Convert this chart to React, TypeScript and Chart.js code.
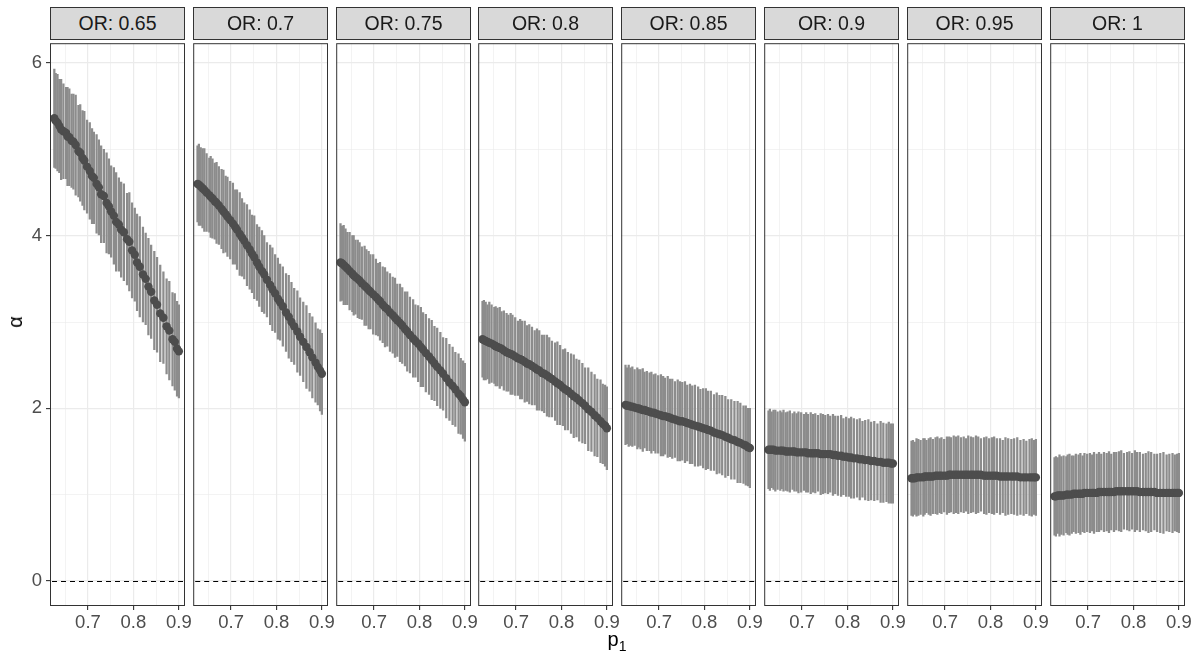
import React, { useEffect, useRef } from "react";
import { Chart, registerables } from "chart.js";

Chart.register(...registerables);

// ---------------- data ----------------
const OR_LABELS = ["OR: 0.65", "OR: 0.7", "OR: 0.75", "OR: 0.8", "OR: 0.85", "OR: 0.9", "OR: 0.95", "OR: 1"];

const P1_VALUES = [
  0.626, 0.629, 0.633, 0.637, 0.641, 0.646, 0.652, 0.655, 0.659, 0.664,
  0.668, 0.673, 0.679, 0.683, 0.688, 0.692, 0.698, 0.704, 0.709, 0.713,
  0.719, 0.724, 0.729, 0.735, 0.741, 0.746, 0.751, 0.757, 0.762, 0.768,
  0.773, 0.779, 0.786, 0.791, 0.797, 0.803, 0.808, 0.814, 0.821, 0.827,
  0.833, 0.839, 0.846, 0.852, 0.859, 0.866, 0.873, 0.879, 0.886, 0.891,
  0.896, 0.900,
];

const ALPHA_OR065 = [
  5.36, 5.33, 5.31, 5.27, 5.23, 5.21, 5.19, 5.15, 5.14, 5.10,
  5.09, 5.05, 4.98, 4.96, 4.90, 4.87, 4.80, 4.75, 4.69, 4.67,
  4.60, 4.56, 4.48, 4.46, 4.38, 4.34, 4.28, 4.23, 4.16, 4.13,
  4.07, 4.04, 3.96, 3.93, 3.83, 3.78, 3.69, 3.64, 3.55, 3.50,
  3.41, 3.35, 3.25, 3.20, 3.10, 3.05, 2.95, 2.90, 2.80, 2.77,
  2.69, 2.66,
];
const ALPHA_OR070 = [
  4.60, 4.59, 4.57, 4.55, 4.53, 4.50, 4.47, 4.45, 4.43, 4.40,
  4.38, 4.35, 4.31, 4.28, 4.25, 4.22, 4.18, 4.14, 4.10, 4.07,
  4.02, 3.98, 3.94, 3.89, 3.84, 3.79, 3.75, 3.69, 3.64, 3.59,
  3.55, 3.49, 3.43, 3.38, 3.33, 3.27, 3.23, 3.18, 3.11, 3.06,
  3.00, 2.95, 2.89, 2.83, 2.77, 2.71, 2.65, 2.59, 2.53, 2.48,
  2.44, 2.40,
];
const ALPHA_OR075 = [
  3.69, 3.68, 3.66, 3.64, 3.62, 3.59, 3.56, 3.54, 3.52, 3.50,
  3.48, 3.45, 3.42, 3.40, 3.37, 3.35, 3.32, 3.29, 3.26, 3.24,
  3.20, 3.17, 3.15, 3.11, 3.08, 3.05, 3.02, 2.99, 2.96, 2.92,
  2.89, 2.85, 2.81, 2.78, 2.75, 2.71, 2.68, 2.64, 2.60, 2.56,
  2.52, 2.48, 2.44, 2.40, 2.35, 2.30, 2.26, 2.22, 2.17, 2.14,
  2.10, 2.07,
];
const ALPHA_OR080 = [
  2.80, 2.79, 2.78, 2.77, 2.76, 2.75, 2.73, 2.72, 2.71, 2.70,
  2.69, 2.67, 2.65, 2.64, 2.63, 2.62, 2.60, 2.58, 2.57, 2.56,
  2.54, 2.52, 2.51, 2.49, 2.47, 2.45, 2.44, 2.41, 2.40, 2.38,
  2.36, 2.34, 2.31, 2.29, 2.27, 2.24, 2.22, 2.20, 2.17, 2.14,
  2.12, 2.09, 2.06, 2.03, 1.99, 1.96, 1.92, 1.89, 1.85, 1.82,
  1.80, 1.77,
];
const ALPHA_OR085 = [
  2.04, 2.03, 2.03, 2.02, 2.02, 2.01, 2.00, 2.00, 1.99, 1.98,
  1.98, 1.97, 1.96, 1.95, 1.95, 1.94, 1.93, 1.92, 1.91, 1.91,
  1.90, 1.89, 1.88, 1.87, 1.86, 1.85, 1.85, 1.84, 1.83, 1.82,
  1.81, 1.80, 1.79, 1.78, 1.77, 1.76, 1.75, 1.74, 1.72, 1.71,
  1.70, 1.69, 1.67, 1.66, 1.64, 1.63, 1.61, 1.60, 1.58, 1.57,
  1.55, 1.54,
];
const ALPHA_OR090 = [
  1.52, 1.52, 1.52, 1.52, 1.51, 1.51, 1.51, 1.51, 1.51, 1.50,
  1.50, 1.50, 1.50, 1.50, 1.49, 1.49, 1.49, 1.49, 1.49, 1.48,
  1.48, 1.48, 1.48, 1.48, 1.47, 1.47, 1.47, 1.47, 1.47, 1.46,
  1.46, 1.45, 1.45, 1.44, 1.44, 1.43, 1.43, 1.42, 1.42, 1.41,
  1.41, 1.40, 1.40, 1.39, 1.39, 1.38, 1.38, 1.37, 1.37, 1.37,
  1.36, 1.36,
];
const ALPHA_OR095 = [
  1.19, 1.19, 1.19, 1.20, 1.20, 1.20, 1.20, 1.21, 1.21, 1.21,
  1.21, 1.21, 1.22, 1.22, 1.22, 1.22, 1.22, 1.22, 1.23, 1.23,
  1.23, 1.23, 1.23, 1.23, 1.23, 1.23, 1.23, 1.23, 1.23, 1.23,
  1.23, 1.23, 1.22, 1.22, 1.22, 1.22, 1.22, 1.22, 1.21, 1.21,
  1.21, 1.21, 1.21, 1.21, 1.21, 1.20, 1.20, 1.20, 1.20, 1.20,
  1.20, 1.20,
];
const ALPHA_OR100 = [
  0.98, 0.98, 0.99, 0.99, 0.99, 0.99, 1.00, 1.00, 1.00, 1.00,
  1.01, 1.01, 1.01, 1.01, 1.01, 1.02, 1.02, 1.02, 1.02, 1.02,
  1.02, 1.03, 1.03, 1.03, 1.03, 1.03, 1.03, 1.03, 1.04, 1.04,
  1.04, 1.04, 1.04, 1.04, 1.04, 1.04, 1.04, 1.03, 1.03, 1.03,
  1.03, 1.03, 1.03, 1.02, 1.02, 1.02, 1.02, 1.02, 1.02, 1.02,
  1.02, 1.02,
];

// half-widths of the intervals
const ERR_OR065 = [
  0.57, 0.55, 0.56, 0.54, 0.58, 0.55, 0.53, 0.57, 0.56, 0.54,
  0.55, 0.58, 0.53, 0.56, 0.55, 0.57, 0.54, 0.56, 0.55, 0.53,
  0.57, 0.55, 0.56, 0.54, 0.58, 0.55, 0.53, 0.56, 0.57, 0.54,
  0.55, 0.56, 0.53, 0.57, 0.55, 0.54, 0.56, 0.58, 0.55, 0.53,
  0.56, 0.54, 0.57, 0.55, 0.56, 0.53, 0.55, 0.57, 0.54, 0.56,
  0.55, 0.54,
];
const ERR_OR070 = [
  0.44, 0.47, 0.45, 0.46, 0.48, 0.45, 0.43, 0.47, 0.46, 0.44,
  0.47, 0.45, 0.46, 0.48, 0.44, 0.46, 0.45, 0.47, 0.43, 0.46,
  0.48, 0.45, 0.44, 0.47, 0.46, 0.45, 0.48, 0.44, 0.46, 0.47,
  0.45, 0.43, 0.46, 0.48, 0.45, 0.47, 0.44, 0.46, 0.45, 0.48,
  0.46, 0.44, 0.47, 0.45, 0.46, 0.48, 0.45, 0.47, 0.46, 0.44,
  0.47, 0.47,
];
const ERR_OR075 = [
  0.45, 0.43, 0.46, 0.44, 0.42, 0.45, 0.44, 0.46, 0.43, 0.45,
  0.44, 0.42, 0.46, 0.44, 0.45, 0.43, 0.46, 0.44, 0.42, 0.45,
  0.44, 0.46, 0.43, 0.45, 0.44, 0.46, 0.42, 0.45, 0.44, 0.43,
  0.46, 0.44, 0.45, 0.42, 0.44, 0.46, 0.43, 0.45, 0.44, 0.46,
  0.43, 0.45, 0.44, 0.42, 0.46, 0.44, 0.45, 0.43, 0.46, 0.44,
  0.45, 0.45,
];
const ERR_OR080 = [
  0.44, 0.46, 0.45, 0.43, 0.47, 0.45, 0.44, 0.46, 0.45, 0.47,
  0.43, 0.46, 0.45, 0.44, 0.47, 0.46, 0.45, 0.43, 0.46, 0.45,
  0.47, 0.44, 0.46, 0.45, 0.43, 0.47, 0.46, 0.44, 0.45, 0.47,
  0.46, 0.44, 0.45, 0.48, 0.46, 0.44, 0.47, 0.45, 0.46, 0.48,
  0.45, 0.47, 0.46, 0.44, 0.48, 0.46, 0.47, 0.45, 0.48, 0.46,
  0.47, 0.48,
];
const ERR_OR085 = [
  0.46, 0.44, 0.47, 0.45, 0.46, 0.44, 0.47, 0.45, 0.46, 0.48,
  0.44, 0.46, 0.45, 0.47, 0.44, 0.46, 0.45, 0.47, 0.46, 0.44,
  0.47, 0.45, 0.46, 0.44, 0.47, 0.46, 0.45, 0.47, 0.44, 0.46,
  0.45, 0.47, 0.46, 0.44, 0.46, 0.47, 0.45, 0.46, 0.44, 0.47,
  0.45, 0.46, 0.47, 0.44, 0.46, 0.45, 0.47, 0.46, 0.45, 0.46,
  0.45, 0.46,
];
const ERR_OR090 = [
  0.45, 0.47, 0.44, 0.46, 0.47, 0.45, 0.46, 0.44, 0.47, 0.45,
  0.46, 0.47, 0.44, 0.46, 0.45, 0.47, 0.46, 0.44, 0.46, 0.45,
  0.47, 0.45, 0.46, 0.44, 0.47, 0.46, 0.45, 0.46, 0.44, 0.47,
  0.45, 0.46, 0.47, 0.44, 0.46, 0.45, 0.47, 0.46, 0.45, 0.47,
  0.44, 0.46, 0.47, 0.45, 0.46, 0.44, 0.47, 0.46, 0.45, 0.47,
  0.46, 0.46,
];
const ERR_OR095 = [
  0.43, 0.44, 0.42, 0.45, 0.44, 0.43, 0.45, 0.44, 0.42, 0.44,
  0.45, 0.43, 0.44, 0.45, 0.43, 0.44, 0.42, 0.45, 0.44, 0.43,
  0.45, 0.44, 0.45, 0.43, 0.44, 0.42, 0.45, 0.44, 0.43, 0.45,
  0.44, 0.42, 0.44, 0.45, 0.43, 0.44, 0.45, 0.43, 0.44, 0.42,
  0.45, 0.44, 0.43, 0.44, 0.45, 0.43, 0.44, 0.42, 0.44, 0.45,
  0.43, 0.44,
];
const ERR_OR100 = [
  0.45, 0.46, 0.44, 0.47, 0.45, 0.46, 0.44, 0.46, 0.47, 0.45,
  0.44, 0.46, 0.45, 0.47, 0.44, 0.46, 0.45, 0.46, 0.44, 0.47,
  0.45, 0.46, 0.44, 0.46, 0.45, 0.47, 0.44, 0.46, 0.45, 0.46,
  0.47, 0.44, 0.45, 0.46, 0.44, 0.47, 0.45, 0.46, 0.44, 0.45,
  0.47, 0.46, 0.44, 0.45, 0.46, 0.47, 0.44, 0.45, 0.46, 0.44,
  0.45, 0.46,
];

const CENTERS = [ALPHA_OR065, ALPHA_OR070, ALPHA_OR075, ALPHA_OR080, ALPHA_OR085, ALPHA_OR090, ALPHA_OR095, ALPHA_OR100];
const ERRORS = [ERR_OR065, ERR_OR070, ERR_OR075, ERR_OR080, ERR_OR085, ERR_OR090, ERR_OR095, ERR_OR100];

const X_TICKS = [0.65, 0.7, 0.75, 0.8, 0.85, 0.9];
const X_MAJOR = [0.7, 0.8, 0.9];
const Y_TICKS = [0, 1, 2, 3, 4, 5, 6];
const Y_MAJOR = [0, 2, 4, 6];
const HLINE_Y = 0;

// ---------------- layout / style ----------------
const X_MIN = 0.6165;
const X_MAX = 0.9135;
const Y_MIN = -0.29;
const Y_MAX = 6.23;

const PANEL_LEFTS = [50, 193, 336, 478, 621, 764, 907, 1050];
const PANEL_W = 135;
const PANEL_TOP = 39;
const PANEL_H = 567;
const STRIP_TOP = 7;
const Y_AXIS_W = 50;
const X_AXIS_H = 40;
const RIGHT_PAD = 12;
const OTHER_LEFT = 4;

const FONT = '"Liberation Sans", Arial, Helvetica, sans-serif';
const has = (arr: number[], v: number) => arr.some((a) => Math.abs(a - v) < 1e-9);

const panelDecor = {
  id: "panelDecor",
  afterDatasetsDraw(chart: any) {
    const { ctx, chartArea } = chart;
    const yPix = Math.round(chart.scales.y.getPixelForValue(HLINE_Y)) + 0.5;
    ctx.save();
    ctx.beginPath();
    ctx.rect(chartArea.left, chartArea.top, chartArea.right - chartArea.left, chartArea.bottom - chartArea.top);
    ctx.clip();
    ctx.strokeStyle = "#000000";
    ctx.lineWidth = 1.2;
    ctx.setLineDash([5, 4]);
    ctx.beginPath();
    ctx.moveTo(chartArea.left + 2, yPix);
    ctx.lineTo(chartArea.right, yPix);
    ctx.stroke();
    ctx.restore();
  },
  afterDraw(chart: any) {
    const { ctx, chartArea } = chart;
    ctx.save();
    ctx.strokeStyle = "#333333";
    ctx.lineWidth = 1;
    ctx.strokeRect(chartArea.left + 0.5, chartArea.top + 0.5, chartArea.right - chartArea.left - 1, chartArea.bottom - chartArea.top - 1);
    ctx.restore();
  },
};

function Panel({ idx }: { idx: number }) {
  const ref = useRef<HTMLCanvasElement>(null);
  const first = idx === 0;
  const leftPart = first ? Y_AXIS_W : OTHER_LEFT;
  const canvasW = leftPart + PANEL_W + RIGHT_PAD;
  const canvasH = PANEL_H + X_AXIS_H;

  useEffect(() => {
    const c = CENTERS[idx];
    const e = ERRORS[idx];
    const chart = new Chart(ref.current as HTMLCanvasElement, {
      type: "bar",
      data: {
        datasets: [
          {
            type: "scatter",
            data: P1_VALUES.map((x, j) => ({ x, y: c[j] })),
            pointRadius: 4.2,
            pointBackgroundColor: "#4D4D4D",
            pointBorderWidth: 0,
            pointBorderColor: "#4D4D4D",
            order: 0,
          } as any,
          {
            type: "bar",
            data: P1_VALUES.map((x, j) => ({ x, y: [c[j] - e[j], c[j] + e[j]] })),
            backgroundColor: "#8C8C8C",
            barThickness: 1.6,
            borderWidth: 0,
            order: 1,
          } as any,
        ],
      },
      options: {
        responsive: false,
        animation: false,
        events: [],
        layout: { padding: { left: first ? 0 : OTHER_LEFT, right: RIGHT_PAD, top: 0, bottom: 0 } },
        plugins: { legend: { display: false }, tooltip: { enabled: false }, title: { display: false } },
        scales: {
          x: {
            type: "linear",
            min: X_MIN,
            max: X_MAX,
            offset: false,
            border: { display: false },
            grid: {
              offset: false,
              color: "#EBEBEB",
              lineWidth: (ctx: any) => (ctx.tick && has(X_MAJOR, ctx.tick.value) ? 1.2 : 0.6),
              tickColor: (ctx: any) => (ctx.tick && has(X_MAJOR, ctx.tick.value) ? "#333333" : "rgba(0,0,0,0)"),
              tickLength: 4,
              tickWidth: 1.1,
              drawTicks: true,
            },
            ticks: {
              autoSkip: false,
              maxRotation: 0,
              minRotation: 0,
              padding: 2,
              color: "#4D4D4D",
              font: { family: FONT, size: 18.5 },
              callback: (v: any) => (has(X_MAJOR, Number(v)) ? String(Number(v)) : ""),
            },
            afterBuildTicks: (s: any) => {
              s.ticks = X_TICKS.map((v) => ({ value: v }));
            },
            afterFit: (s: any) => {
              s.height = X_AXIS_H;
              s.paddingLeft = 0;
              s.paddingRight = 0;
            },
          } as any,
          y: {
            type: "linear",
            min: Y_MIN,
            max: Y_MAX,
            beginAtZero: false,
            border: { display: false },
            grid: {
              color: "#EBEBEB",
              lineWidth: (ctx: any) => (ctx.tick && has(Y_MAJOR, ctx.tick.value) ? 1.2 : 0.6),
              tickColor: (ctx: any) => (ctx.tick && has(Y_MAJOR, ctx.tick.value) ? "#333333" : "rgba(0,0,0,0)"),
              tickLength: 4,
              tickWidth: 1.1,
              drawTicks: first,
            },
            ticks: {
              display: first,
              autoSkip: false,
              padding: 4,
              color: "#4D4D4D",
              font: { family: FONT, size: 18.5 },
              callback: (v: any) => (has(Y_MAJOR, Number(v)) ? String(Number(v)) : ""),
            },
            afterBuildTicks: (s: any) => {
              s.ticks = Y_TICKS.map((v) => ({ value: v }));
            },
            afterFit: (s: any) => {
              s.width = first ? Y_AXIS_W : 0;
              s.paddingTop = 0;
              s.paddingBottom = 0;
            },
          } as any,
        },
      },
      plugins: [panelDecor],
    });
    return () => chart.destroy();
  }, [idx]);

  return (
    <canvas
      ref={ref}
      width={canvasW}
      height={canvasH}
      style={{
        position: "absolute",
        left: PANEL_LEFTS[idx] - leftPart,
        top: PANEL_TOP,
        width: canvasW,
        height: canvasH,
      }}
    />
  );
}

export default function App() {
  return (
    <div
      style={{
        position: "absolute",
        left: 0,
        top: 0,
        width: 1198,
        height: 656,
        background: "#ffffff",
        overflow: "hidden",
        fontFamily: FONT,
      }}
    >
      {OR_LABELS.map((_, i) => (
        <Panel key={"p" + i} idx={i} />
      ))}
      {OR_LABELS.map((lab, i) => (
        <div
          key={"s" + i}
          style={{
            position: "absolute",
            left: PANEL_LEFTS[i],
            top: STRIP_TOP,
            width: PANEL_W,
            height: PANEL_TOP - STRIP_TOP + 1,
            boxSizing: "border-box",
            border: "1px solid #333333",
            background: "#D9D9D9",
            color: "#1A1A1A",
            fontSize: 19.5,
            lineHeight: 1,
            display: "flex",
            alignItems: "center",
            justifyContent: "center",
            whiteSpace: "nowrap",
          }}
        >
          {lab}
        </div>
      ))}
      <div
        style={{
          position: "absolute",
          left: 15,
          top: 322,
          transform: "translate(-50%, -50%) rotate(-90deg)",
          fontSize: 20,
          color: "#000000",
          lineHeight: 1,
        }}
      >
        α
      </div>
      <div
        style={{
          position: "absolute",
          left: 617,
          top: 641,
          transform: "translate(-50%, -50%)",
          fontSize: 20,
          color: "#000000",
          lineHeight: 1,
          whiteSpace: "nowrap",
        }}
      >
        p<sub style={{ fontSize: 14 }}>1</sub>
      </div>
    </div>
  );
}
